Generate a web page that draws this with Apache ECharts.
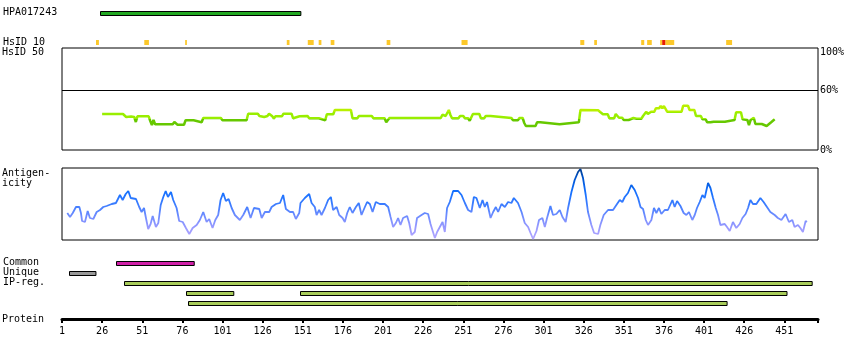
<!DOCTYPE html>
<html><head><meta charset="utf-8">
<script src="https://cdn.jsdelivr.net/npm/echarts@6/dist/echarts.min.js"></script>
<style>html,body{margin:0;padding:0;background:#fff}#c{width:850px;height:360px}</style>
</head><body><div id="c"></div>
<script>
// ---------- data ----------
const proteinTicks = [1, 26, 51, 76, 101, 126, 151, 176, 201, 226, 251, 276, 301, 326, 351, 376, 401, 426, 451];
const proteinEnd = 472;
const topRows = ['HPA017243', ' ', '  ', 'HsID 10'];
const bottomRows = ['Common', 'Unique', 'IP-reg.', '   ', '    '];

// [start residue, end residue, row index]
const hpaBars = [[24, 149, 0]];
const hsid10Yellow = [[21.6, 23.4, 3], [51.7, 54.6, 3], [77.2, 78.3, 3], [140.6, 142.3, 3], [153.7, 157.4, 3],
  [160.5, 162.2, 3], [168, 170.3, 3], [202.9, 205.2, 3], [249.6, 253.4, 3], [323.7, 326.2, 3], [332.4, 334.1, 3],
  [361.7, 363.6, 3], [365.4, 368.3, 3], [373.5, 374.8, 3], [376.7, 382.3, 3], [414.7, 418.4, 3]];
const hsid10Red = [[374.8, 376.7, 3]];
const commonBars = [[34, 82.5, 0]];
const uniqueBars = [[5, 21.5, 1]];
const ipRegBars = [[39, 468, 2], [78, 107.5, 3], [149, 452.5, 3], [79, 415, 4]];

// HsID 50 identity (%), [residue, value]
const hsid50 = [[26,36],[39,36],[40,34.7],[41,33],[44,33.5],[46,33],[47,28],[48,33.7],[55,33.7],[56,29],[57,25],[58,30],[59,25.7],[70,25.7],[71,28],[72,27],[73,25.3],[77,25.3],[78,29.7],[83,29.7],[84,27.7],[88,27.7],[89,32],[100,32],[101,29.7],[103,29.7],[104,31],[105,29.7],[116,29.7],[117,36.3],[123,36.3],[124,34],[127,33],[128,31],[129,34],[130,36.3],[131,36.3],[132,33.7],[133,31.5],[134,33.7],[138,33.7],[139,36.3],[144,36.3],[145,31.7],[146,33.7],[149,33.7],[150,33],[154,34],[155,31.7],[161,31.7],[162,29.7],[165,29.7],[166,35.7],[170,35.7],[171,40],[181,40],[182,31.7],[185,31.7],[186,34],[194,34],[195,31.7],[202,31.7],[203,27.7],[204,29],[205,32],[237,32],[238,35.3],[240,34],[241,33.3],[242,40],[243,35],[244,31.7],[248,31.7],[249,34],[251,34],[252,31.7],[254,31.7],[255,29.3],[256,29.3],[257,36],[261,36],[262,31.7],[264,31.7],[265,34],[268,34],[269,32],[281,32],[282,29.7],[285,29.7],[286,32],[288,32],[289,27],[290,24],[296,24],[297,27.7],[299,27.7],[300,25.7],[311,25.7],[312,27.7],[323,27.7],[324,40],[335,39.7],[336,38],[338,35.7],[341,35.7],[342,31.7],[345,31.7],[346,36],[347,35],[348,32.3],[350,32.3],[351,30],[354,30],[355,32],[357,32],[358,34],[359,31.3],[362,31.3],[363,34],[364,34],[365,38.3],[366,36],[367,36],[368,38.3],[370,38.3],[371,41.7],[373,41.7],[374,44],[375,41.7],[376,44],[377,44],[378,38.3],[387,38.3],[388,44.3],[391,44.3],[392,40],[395,40],[396,34],[399,34],[400,30.7],[402,30.7],[403,27.7],[405,27.7],[406,25.7],[407,28.3],[414,28.3],[415,30],[420,30],[421,37.7],[422,39],[424,37.7],[425,30.7],[426,30],[428,30],[429,25],[430,30],[432,32.3],[433,26],[437,26],[438,24],[440,24],[441,26],[443,28],[445,30.7]];

// Antigenicity profile
const antRes = [4.3,6.0,7.7,9.7,11.8,12.8,13.5,15.3,17.0,18.4,20.5,22.6,24.7,26.7,28.8,32.0,34.6,37.1,38.8,40.7,42.3,43.8,47.1,49.1,50.6,52.1,53.3,54.7,56.2,57.5,59.5,61.0,62.5,64.1,65.6,67.0,68.9,70.3,72.4,74.0,76.2,78.2,80.3,82.4,84.9,86.9,89.0,91.1,92.7,94.8,96.5,98.3,99.8,101.4,103.1,104.8,106.7,108.7,111.8,113.9,116.4,118.5,120.6,123.9,125.4,127.4,130.1,131.6,134.3,136.8,138.8,140.5,143.0,145.0,146.7,148.8,149.6,152.3,155.0,156.5,
 158.5,159.6,161.2,162.7,164.8,166.8,168.5,169.9,172.1,173.7,175.8,177.2,178.7,180.3,182.0,184.1,185.9,187.6,189.7,191.1,192.8,194.5,196.5,199.0,202.1,204.2,205.7,207.3,209.0,210.4,211.9,213.5,216.0,217.3,218.8,220.8,222.2,225.0,227.0,229.1,230.6,233.3,234.7,236.4,238.1,239.5,240.9,242.6,244.7,247.8,249.9,252.0,254.0,256.1,257.6,259.2,261.3,263.0,264.4,265.8,268.0,269.6,271.3,272.7,274.8,276.9,278.9,281.0,282.5,285.1,287.3,289.3,291.4,292.9,294.5,296.6,298.2,300.3,301.8,303.2,305.3,306.9,309.0,
 311.1,312.8,314.8,316.3,318.4,320.4,322.5,324.0,325.6,327.3,328.7,330.8,332.5,335.0,336.4,338.5,341.2,344.3,346.8,348.5,350.1,351.6,353.6,355.7,357.8,359.9,361.4,363.0,364.7,366.1,368.2,369.8,371.3,372.9,374.4,376.5,378.5,381.3,382.7,384.2,386.3,388.3,390.0,391.6,393.7,395.2,396.6,398.3,400.0,401.4,403.5,405.0,406.6,408.3,409.7,411.2,413.9,415.3,417.0,419.0,421.1,423.2,424.9,426.9,428.4,429.9,431.5,433.6,436.1,438.1,440.2,442.3,445.0,447.0,449.2,451.8,453.9,456.0,457.4,459.5,461.0,462.6,464.3,465.1];
const antVal = [27,23,27,33,33,27,19,18,29,22,21,28,30,33,34,36,37,45,40,46,49,42,41,33,28,32,22,11,16,24,13,17,35,43,49,43,48,40,32,19,18,12,6,12,15,20,28,18,21,12,20,25,40,47,39,41,32,25,20,25,33,22,32,31,22,28,28,33,36,37,45,31,28,28,21,27,37,42,46,37,
 33,25,30,25,32,40,43,30,33,25,22,18,27,33,27,33,37,25,33,38,36,28,38,36,36,33,23,13,17,22,15,22,24,17,5,8,22,25,27,26,16,2,8,13,18,8,32,38,49,49,45,37,30,28,43,42,32,40,33,38,22,28,33,28,36,33,38,37,42,37,28,17,13,7,1,9,20,22,13,22,34,25,26,
 30,23,18,32,48,60,68,71,62,45,28,15,7,6,15,25,30,30,36,40,38,43,47,55,50,42,33,31,20,15,20,32,27,32,26,30,30,40,33,39,34,27,25,28,20,25,32,38,45,42,57,52,42,32,25,15,16,13,9,18,12,16,22,26,32,40,36,36,42,38,33,28,25,22,20,26,18,20,13,15,12,8,19,18];

// ---------- chart ----------
const FONT = 'DejaVu Sans Mono';
const chart = echarts.init(document.getElementById('c'));
const G = { left: 62, width: 756 };

function rectSeries(idx, data, fill, stroke, h) {
  return {
    type: 'custom', xAxisIndex: idx, yAxisIndex: idx, data: data, silent: true,
    encode: { x: [0, 1], y: 2 },
    renderItem: function (params, api) {
      const row = api.value(2);
      const p0 = api.coord([api.value(0), row]);
      const p1 = api.coord([api.value(1), row]);
      const top = stroke ? Math.round(p0[1] - h / 2) + 0.5 : Math.round(p0[1] - h / 2);
      return {
        type: 'rect',
        shape: { x: stroke ? Math.round(p0[0]) + 0.5 : p0[0], y: top, width: p1[0] - p0[0], height: h },
        style: { fill: fill, stroke: stroke || null, lineWidth: stroke ? 1 : 0 }
      };
    }
  };
}

const hiddenX = i => ({ gridIndex: i, type: 'value', min: 1, max: proteinEnd, show: false });
const catY = (i, rows) => ({
  gridIndex: i, type: 'category', data: rows, inverse: true,
  axisLine: { show: false }, axisTick: { show: false }, splitLine: { show: false },
  axisLabel: { interval: 0, hideOverlap: false, margin: 60, align: 'left', fontFamily: FONT, fontSize: 10, color: '#000' }
});

const option = {
  animation: false,
  backgroundColor: '#fff',
  grid: [
    { left: G.left, width: G.width, top: 7.5, height: 40 },
    { left: G.left, width: G.width, top: 48, height: 102, show: true, borderColor: '#000', borderWidth: 1 },
    { left: G.left, width: G.width, top: 168, height: 72, show: true, borderColor: '#000', borderWidth: 1 },
    { left: G.left, width: G.width, top: 257.5, height: 50 },
    { left: G.left, width: G.width, top: 318, height: 1 }
  ],
  xAxis: [
    hiddenX(0), hiddenX(1), hiddenX(2), hiddenX(3),
    {
      gridIndex: 4, type: 'value', min: 1, max: proteinEnd, position: 'bottom',
      axisLine: { lineStyle: { color: '#000', width: 3 } },
      axisTick: { customValues: proteinTicks.concat([proteinEnd]), length: 4, lineStyle: { color: '#000', width: 2 } },
      axisLabel: { customValues: proteinTicks, margin: 7, fontFamily: FONT, fontSize: 10, color: '#000' },
      splitLine: { show: false }
    }
  ],
  yAxis: [
    catY(0, topRows),
    {
      gridIndex: 1, type: 'value', min: 0, max: 102, position: 'right',
      axisLine: { show: false }, axisTick: { show: false }, splitLine: { show: false },
      axisLabel: {
        customValues: [0, 60, 102], margin: 2, fontFamily: FONT, fontSize: 10, color: '#000',
        formatter: v => v === 102 ? '{t|100%}' : v + '%',
        rich: { t: { padding: [9, 0, 0, 0], fontFamily: FONT, fontSize: 10, color: '#000' } }
      }
    },
    { gridIndex: 2, type: 'value', min: 0, max: 72, show: false },
    catY(3, bottomRows),
    { gridIndex: 4, type: 'value', show: false }
  ],
  visualMap: [
    { type: 'piecewise', show: false, seriesIndex: 3, dimension: 1,
      pieces: [{ lt: 31, color: '#66c800' }, { gte: 31, lt: 38, color: '#99ee00' }, { gte: 38, color: '#b8f000' }] },
    { type: 'continuous', show: false, seriesIndex: 4, dimension: 1, min: 0, max: 72,
      inRange: { color: ['#b4a8ff', '#9a9aff', '#6f8cff', '#3a7cff', '#1470ff', '#0058d8', '#003a8a'] } }
  ],
  graphic: [
    { type: 'text', left: 2, top: 46, style: { text: 'HsID 50', font: '10px ' + FONT, fill: '#000', lineHeight: 12 } },
    { type: 'text', left: 2, top: 168, style: { text: 'Antigen-\nicity', font: '10px ' + FONT, fill: '#000', lineHeight: 10 } },
    { type: 'text', left: 2, top: 313.5, style: { text: 'Protein', font: '10px ' + FONT, fill: '#000', lineHeight: 12 } }
  ],
  series: [
    rectSeries(0, hpaBars, '#22a822', '#000', 4),
    rectSeries(0, hsid10Yellow, '#fcc82a', null, 5),
    rectSeries(0, hsid10Red, '#e81c00', null, 5),
    {
      type: 'line', xAxisIndex: 1, yAxisIndex: 1, data: hsid50, showSymbol: false, silent: true,
      lineStyle: { width: 2.5 },
      markLine: { silent: true, symbol: ['none', 'none'], label: { show: false },
        lineStyle: { color: '#000', type: 'solid', width: 1 }, data: [{ yAxis: 60 }] }
    },
    {
      type: 'line', xAxisIndex: 2, yAxisIndex: 2, showSymbol: false, silent: true,
      data: antRes.map((r, i) => [r, antVal[i]]),
      lineStyle: { width: 1.8 }
    },
    rectSeries(3, commonBars, '#d020a8', '#000', 4),
    rectSeries(3, uniqueBars, '#999999', '#000', 4),
    rectSeries(3, ipRegBars, '#a8cc5a', '#000', 4)
  ]
};
chart.setOption(option);
</script>
</body></html>
